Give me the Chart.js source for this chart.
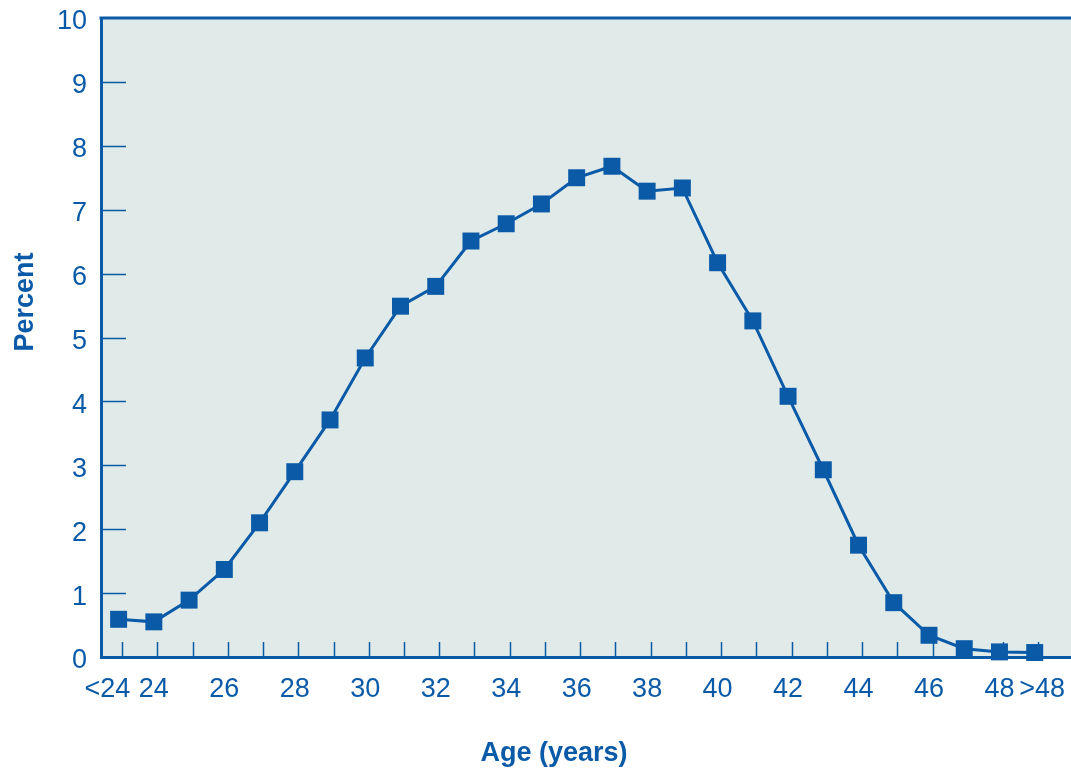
<!DOCTYPE html>
<html>
<head>
<meta charset="utf-8">
<script src="https://cdn.jsdelivr.net/npm/chart.js@4.4.1/dist/chart.umd.min.js"></script>
<style>
  html, body { margin: 0; padding: 0; background: #ffffff; }
  #wrap { width: 1071px; height: 769px; }
</style>
</head>
<body>
<div id="wrap"><canvas id="ageChart"></canvas></div>
<script>
// categorías de edad
const ageCategories = ["<24", "24", "25", "26", "27", "28", "29", "30", "31", "32", "33", "34", "35",
  "36", "37", "38", "39", "40", "41", "42", "43", "44", "45", "46", "47", "48", ">48"];

// porcentaje por edad
const percentValues = [0.59, 0.55, 0.89, 1.37, 2.1, 2.9, 3.71, 4.68, 5.49, 5.8, 6.51, 6.78, 7.09,
  7.5, 7.68, 7.29, 7.34, 6.17, 5.26, 4.08, 2.93, 1.75, 0.85, 0.34, 0.13, 0.08, 0.07];

// etiquetas visibles del eje x
const xTickLabels = ["<24   ", "24", "", "26", "", "28", "", "30", "", "32", "", "34", "",
  "36", "", "38", "", "40", "", "42", "", "44", "", "46", "", "48", "  >48"];

const yTickValues = [0, 1, 2, 3, 4, 5, 6, 7, 8, 9, 10];

const BLUE = "#0a5aa8";
const PLOT_BG = "#e0eae9";
const FONT = "'Liberation Sans', Arial, Helvetica, sans-serif";

// fondo del área, bordes y marcas interiores
const framePlugin = {
  id: "frame",
  beforeDraw(chart) {
    const { ctx, chartArea: a } = chart;
    ctx.save();
    ctx.fillStyle = PLOT_BG;
    ctx.fillRect(a.left, a.top, a.right - a.left, a.bottom - a.top);
    ctx.restore();
  },
  beforeDatasetsDraw(chart) {
    const { ctx, chartArea: a, scales } = chart;
    ctx.save();
    ctx.strokeStyle = BLUE;
    ctx.lineWidth = 1.5;
    // marcas del eje y, hacia dentro
    yTickValues.slice(1, -1).forEach(v => {
      const y = Math.round(scales.y.getPixelForValue(v)) + 0.5;
      ctx.beginPath();
      ctx.moveTo(a.left, y);
      ctx.lineTo(a.left + 25, y);
      ctx.stroke();
    });
    // marcas del eje x, hacia arriba
    ageCategories.forEach((c, i) => {
      const x = Math.round(scales.x.getPixelForValue(i) + 3.5) + 0.5;
      ctx.beginPath();
      ctx.moveTo(x, a.bottom);
      ctx.lineTo(x, a.bottom - 15);
      ctx.stroke();
    });
    // borde superior
    ctx.lineWidth = 3;
    ctx.beginPath();
    ctx.moveTo(a.left - 1.5, a.top);
    ctx.lineTo(a.right, a.top);
    ctx.stroke();
    ctx.restore();
  },
  afterDraw(chart) {
    const { ctx } = chart;
    ctx.save();
    ctx.fillStyle = BLUE;
    ctx.font = "bold 27px " + FONT;
    ctx.textAlign = "center";
    ctx.textBaseline = "alphabetic";
    ctx.fillText("Age (years)", 554, 761);
    ctx.translate(33, 302);
    ctx.rotate(-Math.PI / 2);
    ctx.fillText("Percent", 0, 0);
    ctx.restore();
  }
};

new Chart(document.getElementById("ageChart"), {
  type: "line",
  data: {
    datasets: [{
      label: "Percent",
      data: percentValues.map((v, i) => ({ x: i, y: v })),
      borderColor: BLUE,
      backgroundColor: BLUE,
      borderWidth: 3,
      pointStyle: "rect",
      pointRadius: 12,
      pointHoverRadius: 12,
      pointBorderWidth: 0,
      tension: 0,
      clip: false
    }]
  },
  options: {
    responsive: true,
    maintainAspectRatio: false,
    animation: false,
    layout: { autoPadding: false, padding: { top: 18, right: 0, left: 0, bottom: 0 } },
    plugins: {
      legend: { display: false },
      tooltip: { enabled: false }
    },
    scales: {
      x: {
        type: "linear",
        min: -0.5,
        max: 27.03,
        afterBuildTicks: (scale) => {
          scale.ticks = ageCategories.map((c, i) => ({ value: i }));
        },
        afterFit: (scale) => {
          scale.height = 112;
          scale.paddingLeft = 0;
          scale.paddingRight = 0;
        },
        ticks: {
          autoSkip: false,
          maxRotation: 0,
          padding: 16,
          color: BLUE,
          font: { family: FONT, size: 27 },
          callback: (value) => xTickLabels[value] ?? ""
        },
        grid: { display: false, drawTicks: false },
        border: { display: true, color: BLUE, width: 3 }
      },
      y: {
        min: 0,
        max: 10,
        afterBuildTicks: (scale) => {
          scale.ticks = yTickValues.map(v => ({ value: v }));
        },
        afterFit: (scale) => {
          scale.width = 101;
          scale.paddingTop = 0;
          scale.paddingBottom = 0;
        },
        ticks: {
          padding: 14,
          labelOffset: 4,
          color: BLUE,
          font: { family: FONT, size: 27 }
        },
        grid: { display: false, drawTicks: false },
        border: { display: true, color: BLUE, width: 3 }
      }
    }
  },
  plugins: [framePlugin]
});
</script>
</body>
</html>
